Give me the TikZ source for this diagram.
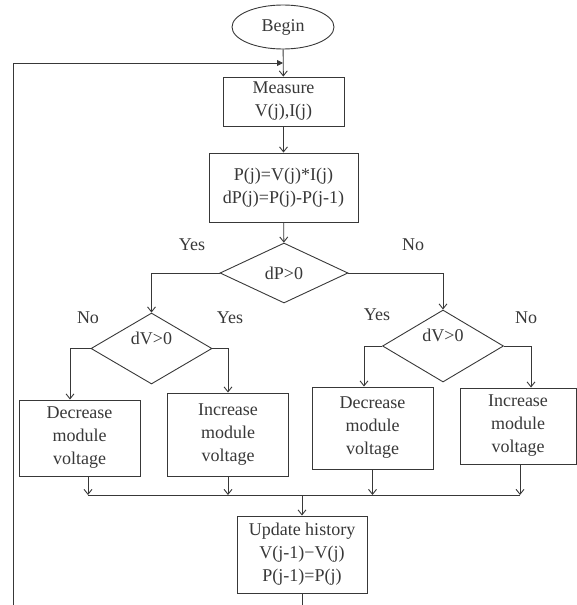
\documentclass[tikz,border=0pt]{standalone}
\usepackage{fontspec}
\setmainfont{Liberation Serif}
\usetikzlibrary{arrows.meta,shapes.geometric}

\definecolor{ink}{HTML}{383838}

\begin{document}
\begin{tikzpicture}[x=1pt,y=-1pt,line width=0.9pt,color=ink,
  >={Straight Barb[length=5pt,width=8pt]},
  txt/.style={font=\fontsize{18}{23}\selectfont},
  box/.style={txt,draw,rectangle,align=center,inner sep=0pt,minimum width=121pt},
  test/.style={txt,draw,diamond,shape aspect=1.7,inner sep=0pt,minimum width=121pt,minimum height=71pt}]
\useasboundingbox (0,0) rectangle (576,605);

% main column
\node[txt,draw,ellipse,inner sep=0pt,minimum width=102pt,minimum height=44pt] (begin) at (283,27) {Begin};
\node[box,minimum height=49pt] (measure) at (283.5,101.5) {Measure\\V(j),I(j)};
\node[box,minimum width=149pt,minimum height=69pt] (power) at (283.5,187.5) {P(j)=V(j)*I(j)\\dP(j)=P(j)-P(j-1)};
\node[test,minimum width=128pt,minimum height=60pt] (dp) at (284,273) {dP>0};

% the two dV tests
\node[test,text depth=21pt] (dvl) at (151.5,348.5) {dV>0};
\node[test,minimum height=72pt,text depth=21pt] (dvr) at (443,346) {dV>0};

% actions
\node[box,minimum height=76pt] (decl) at (79.5,438) {Decrease\\module\\voltage};
\node[box,minimum height=83pt] (incl) at (228,434.5) {Increase\\module\\voltage};
\node[box,minimum height=82pt] (decr) at (372.5,428) {Decrease\\module\\voltage};
\node[box,minimum width=116pt,minimum height=76pt] (incr) at (518,426) {Increase\\module\\voltage};

\node[box,minimum width=130pt,minimum height=77pt] (update) at (302,554.5) {Update history\\V(j-1)−V(j)\\P(j-1)=P(j)};

% branch labels
\node[txt] (ydp) at (192,245) {Yes};
\node[txt] (ndp) at (413,245) {No};
\node[txt] (nvl) at (88,318) {No};
\node[txt] (yvl) at (230,318) {Yes};
\node[txt] (yvr) at (377,315) {Yes};
\node[txt] (nvr) at (526,318) {No};

\coordinate (m1) at (88,495);
\coordinate (m2) at (228,495);
\coordinate (m3) at (372.5,495);
\coordinate (m4) at (520,495);
\coordinate (loopend) at (13,605);
\coordinate (loopin) at (283,63);
\coordinate (out) at (302,605);

\draw[->] (begin) -- (measure);
\draw[->] (measure) -- (power);
\draw[->] (power) -- (dp);

\draw[->] (dp.west) -| (dvl.north);
\draw[->] (dp.east) -| (dvr.north);

\draw[->] (dvl.west) -| ([xshift=-9.5pt]decl.north);
\draw[->] (dvl.east) -| (incl.north);
\draw[->] (dvr.west) -| ([xshift=-8.5pt]decr.north);
\draw[->] (dvr.east) -| ([xshift=13pt]incr.north);

\draw[->] (decl.south -| m1) -- (m1);
\draw[->] (incl.south -| m2) -- (m2);
\draw[->] (decr.south -| m3) -- (m3);
\draw[->] (incr.south -| m4) -- (m4);
\draw (m1) -- (m4);
\draw[->] (update.north |- m1) -- (update);

\draw (update) -- (out);
\draw[-{Triangle[length=6pt,width=6pt]}] (loopend) |- (loopin);

\end{tikzpicture}
\end{document}
